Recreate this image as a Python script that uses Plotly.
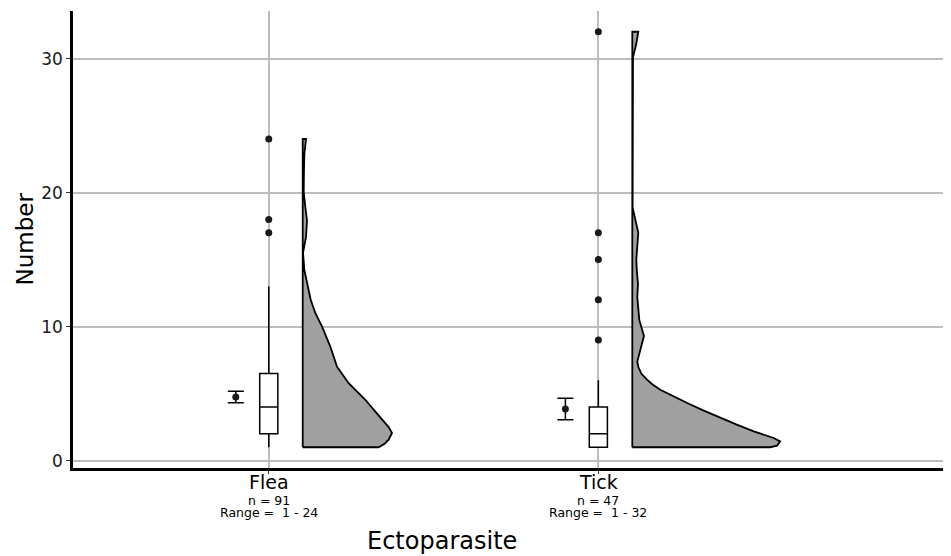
import plotly.graph_objects as go

# ---------------- data ----------------
categories = ["Flea", "Tick"]
cat_pos = [1, 2]
n_obs = [91, 47]
ranges = ["1 - 24", "1 - 32"]

q1 = [2, 1]
median = [4, 2]
q3 = [6.5, 4]
whisker_low = [1, 1]
whisker_high = [13, 6]

outliers_flea = [17, 18, 24]
outliers_tick = [9, 12, 15, 17, 32]

mean_vals = [4.75, 3.85]
se_vals = [0.43, 0.80]

# half-violin density profiles (value, relative width)
flea_dens_y = [1.0, 1.06, 1.25, 1.56, 2.06, 2.5, 3.05, 3.8, 4.54, 5.2, 5.78, 7.0, 8.5, 10.0,
               11.0, 12.0, 13.2, 14.2, 15.5, 16.7, 17.9, 19.0, 20.05, 21.5, 22.9, 24.0]
flea_dens_w = [76, 77, 82, 86, 89.4, 86, 79.4, 71, 62.7, 54, 46, 34.4, 27.7, 19.4,
               12.7, 8, 4.3, 1.7, 0.3, 3.3, 4.3, 2.5, 1.0, 1.2, 1.7, 3.3]

tick_dens_y = [1.0, 1.12, 1.44, 1.69, 2.18, 2.7, 3.18, 3.75, 4.3, 4.8, 5.29, 5.7, 6.03, 6.5,
               7.0, 7.4, 8.3, 9.3, 10.5, 11.2, 12.2, 13.2, 14.2, 15.0, 16.0, 17.0, 18.0,
               18.9, 25.0, 30.1, 31.1, 32.0]
tick_dens_w = [138, 145, 148, 141.6, 121.6, 104, 88, 71, 55, 41, 28, 20, 15, 9,
               6, 5, 8.3, 11.7, 7, 6, 5, 5.7, 4.5, 4, 5, 6, 3,
               0.3, 0.3, 0.7, 4, 6]

# ---------------- style ----------------
violin_scale = 1 / 330.0
violin_offset = 0.103
mean_offset = -0.1
box_width = 0.055
FONT = "DejaVu Sans"
GRID = "#bdbdbd"

fig = go.Figure()

# half violins
for xc, dy, dw in [(cat_pos[0], flea_dens_y, flea_dens_w), (cat_pos[1], tick_dens_y, tick_dens_w)]:
    base = xc + violin_offset
    xs = [base, base] + [base + w * violin_scale for w in reversed(dw)] + [base]
    ys = [dy[0], dy[-1]] + list(reversed(dy)) + [dy[0]]
    fig.add_trace(go.Scatter(x=xs, y=ys, mode="lines", fill="toself",
                             fillcolor="#a0a0a0", line=dict(color="black", width=1.8),
                             hoverinfo="skip", showlegend=False))

# boxes
fig.add_trace(go.Box(x=cat_pos, q1=q1, median=median, q3=q3,
                     lowerfence=whisker_low, upperfence=whisker_high,
                     width=box_width, whiskerwidth=0, fillcolor="white",
                     line=dict(color="black", width=1.5), boxpoints=False,
                     showlegend=False))

# outliers
fig.add_trace(go.Scatter(x=[cat_pos[0]] * len(outliers_flea) + [cat_pos[1]] * len(outliers_tick),
                         y=outliers_flea + outliers_tick, mode="markers",
                         marker=dict(color="#1a1a1a", size=7), showlegend=False))

# mean +- se
fig.add_trace(go.Scatter(x=[p + mean_offset for p in cat_pos], y=mean_vals, mode="markers",
                         marker=dict(color="#1a1a1a", size=7),
                         error_y=dict(type="data", array=se_vals, visible=True,
                                      color="black", thickness=1.5, width=8),
                         showlegend=False))

# labels under x axis
annotations = []
for p, c, n, r in zip(cat_pos, categories, n_obs, ranges):
    annotations.append(dict(x=p, y=0, xref="x", yref="paper", text=c, showarrow=False,
                            yanchor="middle", yshift=-14, font=dict(size=19, color="black", family=FONT)))
    annotations.append(dict(x=p, y=0, xref="x", yref="paper", text=f"n = {n}", showarrow=False,
                            yanchor="middle", yshift=-32, font=dict(size=12.5, color="black", family=FONT)))
    annotations.append(dict(x=p, y=0, xref="x", yref="paper", text=f"Range = \u00a0{r}", showarrow=False,
                            yanchor="middle", yshift=-44, font=dict(size=12.5, color="black", family=FONT)))

annotations.append(dict(x=0.4208, y=0, xref="paper", yref="paper", text="Ectoparasite", showarrow=False,
                        yanchor="middle", yshift=-73, font=dict(size=24, color="black", family=FONT)))
annotations.append(dict(x=0, y=0.5, xref="paper", yref="paper", text="Number", showarrow=False,
                        textangle=-90, xanchor="center", yanchor="middle", xshift=-49,
                        font=dict(size=23, color="black", family=FONT)))

# page body has an 8px margin: figure is sized/shifted to fill the 951x556 window
fig.update_layout(
    width=943, height=548,
    margin=dict(l=65, r=0, t=3, b=88),
    plot_bgcolor="white", paper_bgcolor="white",
    font=dict(family=FONT, color="black"),
    annotations=annotations,
    xaxis=dict(range=[0.406, 3.07], tickvals=cat_pos, showticklabels=False,
               showgrid=True, gridcolor=GRID, gridwidth=1.5, zeroline=False,
               showline=True, linecolor="black", linewidth=2.5,
               ticks="outside", ticklen=3, tickcolor="#333", tickwidth=1),
    yaxis=dict(range=[-0.55, 33.55], tickvals=[0, 10, 20, 30],
               showgrid=True, gridcolor=GRID, gridwidth=1.5, zeroline=False,
               showline=True, linecolor="black", linewidth=2.5,
               ticks="outside", ticklen=4, tickcolor="#333", tickwidth=1,
               tickfont=dict(size=17, color="#1a1a1a", family=FONT)),
)

fig.write_html("out.html")
